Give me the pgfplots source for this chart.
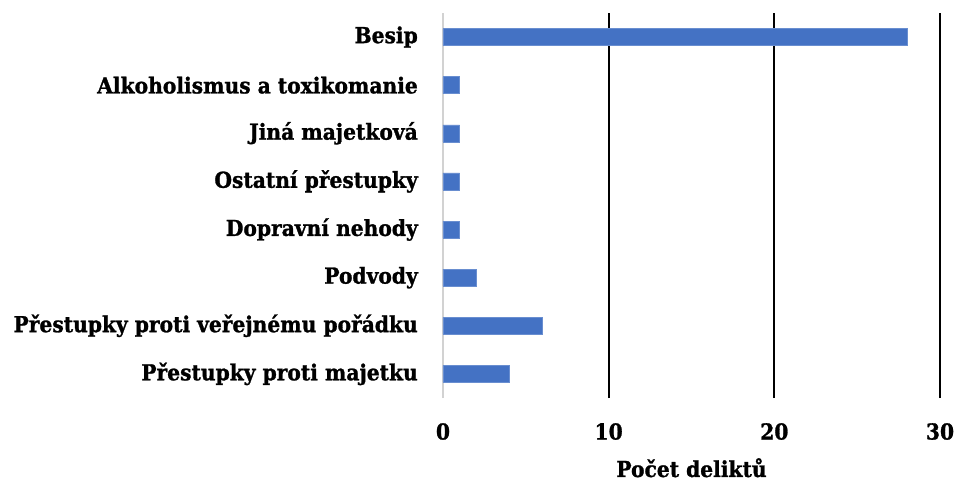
\documentclass[border=0pt]{standalone}
\usepackage{fontspec}
\setmainfont{DejaVu Serif}[FakeStretch=0.92, BoldFeatures={FakeBold=1.2}]
\usepackage{pgfplots}
\pgfplotsset{compat=1.18}
\definecolor{barblue}{HTML}{4472C4}
\begin{document}
\begin{tikzpicture}
\begin{axis}[
  name=ax,
  at={(0,0)}, anchor=south west,
  scale only axis,
  width=497pt, height=385pt,
  xbar, bar width=17pt,
  xmin=0, xmax=30,
  ymin=-0.5, ymax=7.5,
  xtick={10,20,30},
  extra x ticks={0},
  extra x tick style={grid style={draw=gray!35, line width=2pt}},
  ytick={0,...,7},
  yticklabels={P\v{r}estupky proti majetku, P\v{r}estupky proti ve\v{r}ejn\'{e}mu po\v{r}\'{a}dku, Podvody, Dopravn\'{i} nehody, Ostatn\'{i} p\v{r}estupky, Jin\'{a} majetkov\'{a}, Alkoholismus a toxikomanie, Besip},
  axis line style={draw=none},
  major tick length=0pt,
  xmajorgrids,
  grid style={draw=black, line width=2.2pt},
  /pgf/number format/assume math mode=true,
  tick label style={font=\fontsize{22}{26}\selectfont\bfseries},
  yticklabel style={anchor=east, inner sep=0pt, xshift=-25pt},
  xticklabel style={anchor=north, inner sep=0pt, yshift=-25pt},
  xlabel={Po\v{c}et delikt\r{u}},
  xlabel style={font=\fontsize{22}{26}\selectfont\bfseries, at={(axis description cs:0.5,0)}, anchor=north, inner sep=0pt, yshift=-60pt},
]
\addplot[fill=barblue, draw=barblue!80!white, line width=0.5pt] coordinates {
  (4,0) (6,1) (2,2) (1,3) (1,4) (1,5) (1,6) (28,7)
};
\end{axis}
\path (ax.south west) ++(-443pt,-85pt) rectangle ++(958pt,483pt);
\end{tikzpicture}
\end{document}
